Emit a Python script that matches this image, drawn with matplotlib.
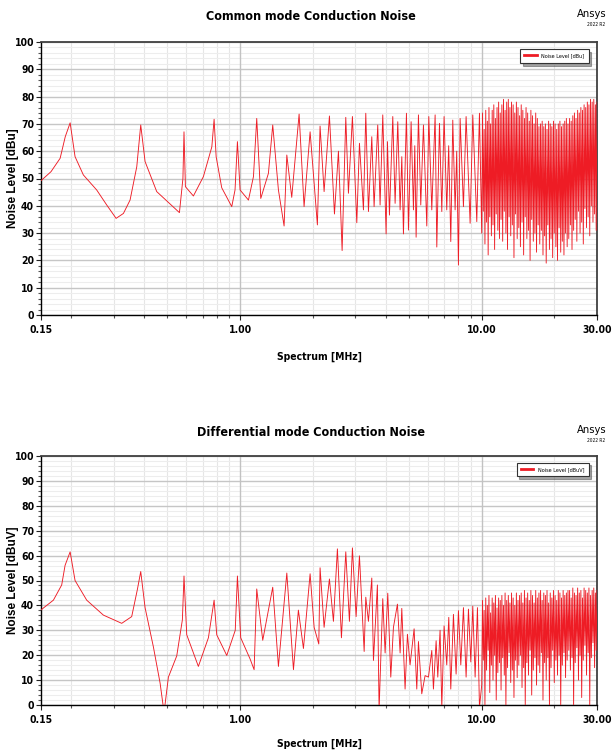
import numpy as np
import matplotlib
matplotlib.use("Agg")
import matplotlib.pyplot as plt
from matplotlib.ticker import FixedLocator, MultipleLocator, NullFormatter

NARROW = ['Liberation Sans Narrow', 'Arial Narrow', 'Noto Sans Condensed',
          'DejaVu Sans Condensed', 'DejaVu Sans']
WIDE = ['Liberation Sans', 'DejaVu Sans']
RED = '#ee1c25'

# ---- common mode: resonances below 10 MHz (MHz, dBu)
cm_freq = [0.15, 0.165, 0.180, 0.189, 0.198, 0.2075, 0.2246, 0.255, 0.2806, 0.3068,
           0.329, 0.3505, 0.3736, 0.388, 0.4044, 0.4519, 0.561, 0.580, 0.586, 0.594,
           0.641, 0.705, 0.764, 0.7807, 0.796, 0.8396, 0.9237, 0.953, 0.975, 1.0,
           1.083, 1.136, 1.172, 1.218, 1.31, 1.365, 1.441, 1.521, 1.561, 1.636,
           1.755, 1.840, 1.949, 2.089, 2.143, 2.227, 2.343, 2.458, 2.553, 2.644,
           2.738, 2.808, 2.917, 3.041, 3.119, 3.240, 3.313, 3.398, 3.508, 3.586,
           3.713, 3.797, 3.895, 4.021, 4.073, 4.151, 4.285, 4.381, 4.494, 4.595,
           4.67, 4.743, 4.881, 4.975, 5.103, 5.218, 5.285, 5.352, 5.472, 5.595,
           5.739, 5.925, 6.039, 6.214, 6.415, 6.518, 6.686, 6.836, 6.987, 7.167,
           7.30, 7.447, 7.590, 7.761, 7.88, 8.011, 8.140, 8.402, 8.618, 8.954,
           9.184, 9.541, 9.787]
cm_level = [49.2, 52.5, 57.4, 65.3, 70.4, 58.0, 51.3, 45.8, 40.3, 35.4,
            37.2, 42.1, 54.3, 69.6, 56.2, 45.2, 37.5, 50.0, 67.1, 47.0,
            43.6, 50.7, 61.6, 71.7, 58.0, 46.6, 39.7, 45.8, 63.5, 45.8,
            42.1, 50.7, 72.0, 42.7, 51.9, 69.6, 45.8, 32.6, 58.6, 43.1,
            73.6, 39.7, 67.1, 33.0, 69.2, 45.2, 72.9, 37.0, 60.0, 23.6,
            72.4, 44.6, 72.7, 33.8, 62.9, 38.5, 73.9, 37.9, 65.3, 39.7,
            69.6, 40.3, 73.3, 29.7, 63.5, 36.6, 72.7, 40.9, 70.8, 38.5,
            58.0, 29.7, 73.9, 31.1, 70.8, 38.5, 62.0, 28.5, 73.3, 40.3,
            69.6, 32.6, 72.7, 38.5, 73.3, 24.9, 70.2, 37.9, 72.7, 38.5,
            62.0, 26.9, 71.4, 38.5, 60.0, 18.3, 72.0, 39.7, 72.7, 33.6,
            73.3, 34.2, 73.9]

# ---- common mode: dense harmonics 10-30 MHz (peak / valley per harmonic)
cm_hf_peak = [74, 68, 75, 71, 76, 70, 75, 77, 72, 76, 78, 74,
              77, 79, 75, 78, 79, 76, 78, 77, 74, 78, 76, 73,
              77, 75, 72, 76, 74, 71, 75, 73, 70, 74, 72, 69,
              70, 71, 69, 70, 68, 71, 70, 69, 71, 70, 68, 70, 71, 69, 70, 71, 72, 70,
              72, 71, 73, 74, 72, 75, 74, 76, 75, 77, 76, 78, 77, 79, 78, 79, 77, 78]
cm_hf_dip = [30, 38, 26, 34, 22, 36, 29, 33, 24, 37, 31, 28,
             35, 27, 38, 30, 24, 36, 29, 33, 21, 37, 28, 32,
             25, 34, 22, 36, 28, 31, 20, 35, 27, 30, 23, 33,
             26, 31, 22, 29, 19, 33, 24, 28, 21, 30, 25, 20, 32, 23, 27, 22, 30, 25,
             28, 33, 24, 31, 35, 27, 38, 30, 34, 26, 39, 32, 36, 29, 40, 34, 37, 31]

# ---- differential mode: resonances below 10 MHz (MHz, dBuV)
dm_freq = [0.15, 0.1688, 0.1827, 0.1887, 0.198, 0.2075, 0.2319, 0.2718, 0.3237, 0.356,
           0.3758, 0.388, 0.4044, 0.4378, 0.4666, 0.4846, 0.5051, 0.5468, 0.577, 0.586,
           0.6015, 0.672, 0.7394, 0.7807, 0.8006, 0.8807, 0.955, 0.975, 1.006, 1.100,
           1.143, 1.172, 1.241, 1.365, 1.441, 1.561, 1.663, 1.743, 1.829, 1.949,
           2.025, 2.117, 2.143, 2.227, 2.343, 2.434, 2.528, 2.627, 2.738, 2.835,
           2.917, 3.021, 3.119, 3.262, 3.313, 3.398, 3.508, 3.564, 3.701, 3.761,
           3.895, 3.983, 4.085, 4.204, 4.312, 4.479, 4.595, 4.669, 4.818, 4.927,
           5.052, 5.251, 5.386, 5.472, 5.648, 5.830, 6.02, 6.214, 6.312, 6.476,
           6.58, 6.725, 6.836, 6.987, 7.167, 7.306, 7.447, 7.638, 7.834, 8.011,
           8.193, 8.402, 8.618, 8.813, 9.013, 9.184, 9.391, 9.602, 9.787]
dm_level = [38.2, 42.1, 48.2, 56.1, 61.5, 50.0, 42.1, 36.1, 32.8, 35.5,
            46.4, 53.6, 39.1, 23.3, 8.8, -3.0, 11.2, 19.7, 34.2, 51.8,
            28.2, 15.5, 27.0, 42.1, 28.2, 19.9, 30.0, 51.8, 27.0, 18.5,
            14.2, 46.6, 26.0, 47.3, 15.5, 53.0, 14.2, 38.1, 22.7, 52.7,
            31.2, 24.5, 55.1, 31.2, 50.6, 33.6, 62.7, 27.0, 61.5, 33.6,
            63.1, 35.5, 59.9, 21.5, 43.3, 33.6, 51.0, 17.9, 48.2, -2.0,
            42.7, 20.9, 44.9, 11.2, 31.2, 40.5, 20.9, 38.8, 6.4, 28.4,
            16.1, 30.6, 6.4, 25.5, 4.5, 11.8, 11.2, 21.9, 6.4, 25.8,
            11.2, 30.0, -1.0, 31.8, 16.1, 35.2, 6.4, 36.4, 12.4, 37.9,
            16.1, 39.1, 11.2, 38.5, 17.3, 39.7, 11.2, 39.1, -1.0]

# ---- differential mode: dense harmonics 10-30 MHz
dm_hf_peak = [42, 38, 43, 40, 44, 37, 43, 41, 44, 39, 43, 42,
              44, 40, 45, 42, 44, 41, 45, 43, 40, 45, 42, 44,
              45, 41, 46, 43, 45, 42, 46, 44, 41, 46, 43, 45,
              46, 42, 45, 44, 46, 41, 45, 43, 46, 44, 42, 46, 45, 43, 46, 44, 45, 46,
              46, 43, 47, 45, 44, 47, 45, 46, 43, 47, 46, 45, 47, 44, 46, 47, 45, 46]
dm_hf_dip = [8, 18, 0, 14, 22, 5, 16, 10, 20, 2, 13, 17,
             6, 19, 12, 0, 15, 21, 9, 14, 3, 18, 11, 16,
             20, 7, 15, 0, 17, 12, 22, 4, 14, 19, 8, 16,
             13, 21, 2, 17, 10, 19, 0, 15, 22, 9, 18, 12, 20, 0, 16, 21, 11, 18,
             22, 14, 19, 0, 17, 23, 10, 20, 3, 18, 24, 12, 21, 0, 19, 25, 15, 22]

x_ticks = [0.15, 1.0, 10.0, 30.0]
x_tick_labels = ['0.15', '1.00', '10.00', '30.00']


def hf_trace(peaks, dips, f_start=10.0, f_stop=30.0):
    # one valley + one peak per harmonic on the log sweep
    f = np.geomspace(f_start, f_stop, 2 * len(peaks))
    lv = np.empty(2 * len(peaks))
    lv[0::2] = dips
    lv[1::2] = peaks
    return f, lv


def draw_panel(ax, freq, level, peaks, dips, ylabel, leg_label, h_px):
    hf_f, hf_lv = hf_trace(peaks, dips)
    f = np.concatenate([freq, hf_f])
    lv = np.concatenate([level, hf_lv])
    ax.plot(f, lv, color=RED, lw=0.65, label=leg_label, zorder=3)

    ax.set_xscale('log')
    ax.set_xlim(0.15, 30)
    ax.set_ylim(0, 100)

    ax.xaxis.set_major_locator(FixedLocator(x_ticks))
    ax.set_xticklabels(x_tick_labels)
    minors = [m * d for d in (0.1, 1, 10) for m in range(2, 10) if 0.15 < m * d < 30]
    ax.xaxis.set_minor_locator(FixedLocator(minors))
    ax.xaxis.set_minor_formatter(NullFormatter())
    ax.yaxis.set_major_locator(MultipleLocator(10))
    ax.yaxis.set_minor_locator(MultipleLocator(2))

    ax.grid(which='minor', axis='y', color='#ededed', lw=0.8)
    ax.grid(which='major', axis='y', color='#c6c6c6', lw=1.0)
    ax.grid(which='minor', axis='x', color='#e6e6e6', lw=0.8)
    for fx in (1.0, 10.0):
        ax.axvline(fx, color='#c2c2c2', lw=1.0, zorder=1.5)
    ax.set_axisbelow(True)

    ax.tick_params(which='major', length=3.5, width=0.8, color='#222', pad=1.5)
    ax.tick_params(which='minor', length=2, width=0.8, color='#555')
    ax.tick_params(axis='x', which='major', pad=4)
    for lab in ax.get_xticklabels() + ax.get_yticklabels():
        lab.set_family(NARROW)
        lab.set_fontstretch('condensed')
        lab.set_fontweight('bold')
        lab.set_fontsize(7.5)

    for side in ('top', 'right'):
        ax.spines[side].set_color('#404040')
        ax.spines[side].set_linewidth(1.3)
    for side in ('left', 'bottom'):
        ax.spines[side].set_color('black')
        ax.spines[side].set_linewidth(1.0)

    ax.set_xlabel('Spectrum [MHz]', family=NARROW, fontstretch='condensed',
                  fontweight='bold', fontsize=7.5)
    ax.xaxis.set_label_coords(0.5, -37 / h_px)
    ax.set_ylabel(ylabel, family=WIDE, fontweight='bold', fontsize=8.5)
    ax.yaxis.set_label_coords(-22 / 556, 0.5)

    leg = ax.legend(loc='upper right', bbox_to_anchor=(0.99, 0.985),
                    frameon=True, fancybox=False, shadow=True, handlelength=2.2,
                    borderpad=0.8, prop={'family': NARROW, 'stretch': 'condensed', 'size': 4})
    leg.get_frame().set_edgecolor('#333333')
    leg.get_frame().set_linewidth(0.8)
    for h in leg.get_lines():
        h.set_linewidth(2.0)


fig = plt.figure(figsize=(6.16, 7.56), dpi=100)
ax_cm = fig.add_axes([41 / 616, 1 - 315 / 756, 556 / 616, 273 / 756])
ax_dm = fig.add_axes([41 / 616, 1 - 705 / 756, 556 / 616, 249 / 756])

draw_panel(ax_cm, cm_freq, cm_level, cm_hf_peak, cm_hf_dip,
           'Noise Level [dBu]', 'Noise Level [dBu]', 273)
draw_panel(ax_dm, dm_freq, dm_level, dm_hf_peak, dm_hf_dip,
           'Noise Level [dBuV]', 'Noise Level [dBuV]', 249)
ax_dm.xaxis.set_label_coords(0.5, -34 / 249)

for y_title, y_logo, title in ((1 - 16 / 756, 1 - 14 / 756, 'Common mode Conduction Noise'),
                               (1 - 433 / 756, 1 - 430 / 756, 'Differential mode Conduction Noise')):
    fig.text(0.505, y_title, title, family=NARROW, fontstretch='condensed',
             fontweight='bold', fontsize=9, ha='center', va='center')
    fig.text(0.985, y_logo, 'Ansys', family=NARROW, fontstretch='condensed',
             fontsize=8, ha='right', va='center')
    fig.text(0.982, y_logo - 11 / 756, '2022 R2', family=NARROW, fontstretch='condensed',
             fontsize=3.5, ha='right', va='center')

fig.savefig('out.png', dpi=100)
